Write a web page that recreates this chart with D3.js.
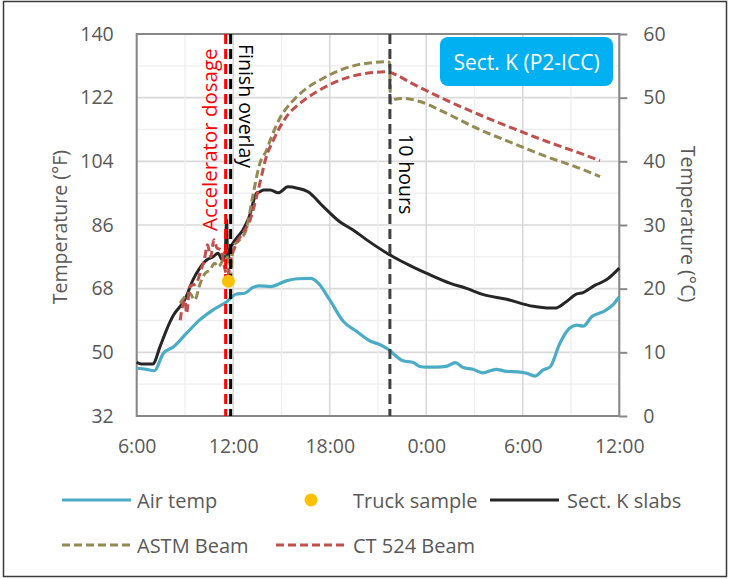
<!DOCTYPE html>
<html><head><meta charset="utf-8">
<script src="https://cdn.jsdelivr.net/npm/d3@7/dist/d3.min.js"></script>
<style>
body{margin:0;background:#fff}
svg{display:block}
text{font-family:"Open Sans", sans-serif}
</style>
</head><body>
<svg id="chart" width="730" height="579"></svg>
<script>
// ---------- data (hours after 6:00 on day 1; temperatures in °F) ----------
const xTickHours = [0, 6, 12, 18, 24, 30];
const xTickLabels = ["6:00", "12:00", "18:00", "0:00", "6:00", "12:00"];
const leftTicks = [32, 50, 68, 86, 104, 122, 140];
const rightTicks = [0, 10, 20, 30, 40, 50, 60];

const airHours = [0, 0.6, 1.1, 1.65, 2.3, 3.1, 3.9, 4.75, 5.6, 6.2, 6.7, 7.25, 7.65, 8.3, 9.3, 10.0, 10.8, 11.3, 12.0, 12.85, 13.7, 14.5, 15.0, 15.55, 16.55, 17.2, 17.6, 18.0, 18.6, 19.3, 19.8, 20.3, 20.9, 21.5, 22.35, 23.0, 23.7, 24.25, 24.75, 25.25, 25.7, 26.3, 26.9, 27.35, 27.75, 28.3, 29.0, 29.6, 30.0];
const airTemp  = [45.5, 45.2, 44.8, 49.7, 51.6, 55.4, 59.1, 62.0, 64.3, 66.5, 66.7, 68.4, 68.8, 68.6, 70.2, 70.8, 70.9, 69.5, 64.8, 58.7, 55.8, 53.2, 52.4, 51.1, 47.6, 47.1, 46.0, 45.8, 45.8, 46.1, 47.1, 45.7, 45.2, 44.2, 45.2, 44.6, 44.5, 44.1, 43.3, 45.0, 45.9, 52.5, 56.8, 57.7, 57.4, 60.1, 61.5, 63.4, 65.7];

const slabHours = [0, 0.3, 1.0, 1.45, 1.85, 2.3, 2.7, 3.0, 3.5, 3.85, 4.35, 4.75, 5.05, 5.35, 5.5, 5.59, 5.65, 5.8, 6.2, 6.6, 7.0, 7.45, 7.65, 7.9, 8.3, 8.8, 9.4, 10.0, 10.65, 11.6, 12.6, 13.45, 14.3, 15.75, 17.0, 18.0, 19.5, 20.5, 21.5, 23.0, 24.65, 25.7, 26.0, 26.7, 27.35, 27.75, 28.5, 29.2, 30.0];
const slabTemp  = [47.2, 46.7, 46.7, 51.6, 56.3, 60.6, 63.0, 65.0, 70.5, 73.3, 76.1, 77.0, 78.0, 76.0, 78.0, 87.4, 76.0, 79.0, 82.2, 84.6, 88.4, 95.0, 95.4, 95.9, 95.9, 95.1, 96.8, 96.4, 95.4, 91.2, 87.0, 84.6, 81.8, 77.5, 74.5, 72.4, 69.5, 68.1, 66.4, 65.0, 63.0, 62.5, 62.5, 64.3, 66.5, 66.9, 69.0, 70.5, 73.8];

const astmHours = [2.7, 3.0, 3.3, 3.6, 3.95, 4.25, 4.55, 4.85, 5.05, 5.35, 5.55, 5.8, 6.0, 6.4, 6.8, 7.25, 7.66, 8.08, 8.3, 8.9, 9.75, 10.55, 11.6, 12.65, 13.65, 14.7, 15.55, 15.72, 15.78, 16.0, 16.55, 17.6, 19.25, 21.35, 23.4, 25.5, 27.55, 28.8];
const astmTemp  = [63.9, 65.7, 66.7, 64.8, 69.5, 72.3, 73.3, 75.2, 74.2, 76.1, 79.0, 70.5, 79.9, 81.8, 84.6, 95.0, 103.5, 107.2, 110.0, 116.2, 121.3, 124.6, 127.5, 129.8, 131.2, 131.9, 132.2, 132.0, 120.4, 121.5, 121.8, 120.9, 117.6, 112.9, 109.1, 105.3, 102.0, 99.7];

const ctHours = [2.7, 3.0, 3.1, 3.3, 3.7, 4.0, 4.2, 4.4, 4.6, 4.8, 5.0, 5.25, 5.45, 5.65, 5.85, 6.2, 6.6, 7.05, 7.45, 7.85, 8.0, 8.5, 9.3, 10.15, 11.2, 12.2, 13.25, 14.3, 15.55, 16.15, 17.0, 19.25, 21.35, 23.4, 25.5, 27.55, 28.8];
const ctTemp  = [59.1, 64.8, 61.0, 68.6, 69.5, 73.3, 76.1, 80.4, 77.0, 81.8, 79.4, 79.0, 74.2, 71.4, 76.1, 80.8, 83.7, 87.4, 94.0, 101.6, 104.4, 110.0, 116.6, 120.4, 123.7, 126.1, 127.9, 128.9, 129.3, 128.4, 126.3, 121.3, 117.1, 113.3, 109.6, 106.3, 104.2];

const truckHours = [5.7];
const truckTemp  = [70.1];

const markerNames = ["Accelerator dosage", "Finish overlay", "10 hours"];
const markerHours = [5.53, 5.84, 15.74];

const legendNames = ["Air temp", "Truck sample", "Sect. K slabs", "ASTM Beam", "CT 524 Beam"];
const chartTitle = "Sect. K (P2-ICC)";

// ---------- drawing ----------
const svg = d3.select("#chart");
const L = 136.7, R = 619.3, T = 34, B = 416;
const x = d3.scaleLinear().domain([0, 30]).range([L, R]);
const yF = d3.scaleLinear().domain([32, 140]).range([B, T]);
const yC = d3.scaleLinear().domain([0, 60]).range([B, T]);
const grey = "#595959";
const FS = "19.5px";

// outer frame
svg.append("rect").attr("x", 3.5).attr("y", 1.5).attr("width", 723).attr("height", 575)
  .attr("fill", "none").attr("stroke", "#3a3a3a").attr("stroke-width", 1.5);

// gridlines
const g = svg.append("g");
d3.range(32, 141, 9).forEach(v => {
  const major = (v - 32) % 18 === 0;
  g.append("line").attr("x1", L).attr("x2", R).attr("y1", yF(v)).attr("y2", yF(v))
    .attr("stroke", major ? "#d9d9d9" : "#eeeeee").attr("stroke-width", major ? 1.6 : 1.3);
});
d3.range(0, 31, 3).forEach(h => {
  const major = h % 6 === 0;
  g.append("line").attr("y1", T).attr("y2", B).attr("x1", x(h)).attr("x2", x(h))
    .attr("stroke", major ? "#d9d9d9" : "#eeeeee").attr("stroke-width", major ? 1.6 : 1.3);
});

// plot border
svg.append("rect").attr("x", L).attr("y", T).attr("width", R - L).attr("height", B - T)
  .attr("fill", "none").attr("stroke", "#878787").attr("stroke-width", 2);

// axes via d3
const leftAxis = d3.axisLeft(yF).tickValues(leftTicks).tickSize(0).tickPadding(23);
const rightAxis = d3.axisRight(yC).tickValues(rightTicks).tickSize(8).tickPadding(16);
const bottomAxis = d3.axisBottom(x).tickValues(xTickHours).tickFormat((d, i) => xTickLabels[i]).tickSize(0).tickPadding(23);

function styleAxis(sel) {
  sel.select(".domain").remove();
  sel.selectAll("text").attr("fill", grey).style("font-size", FS);
  sel.selectAll(".tick line").attr("stroke", "#878787").attr("stroke-width", 2);
}
svg.append("g").attr("transform", `translate(${L},0)`).call(leftAxis).call(styleAxis);
svg.append("g").attr("transform", `translate(${R},0)`).call(rightAxis).call(styleAxis);
svg.append("g").attr("transform", `translate(0,${B})`).call(bottomAxis).call(styleAxis);

// axis titles
svg.append("text").attr("transform", `translate(59,227) rotate(-90)`)
  .attr("text-anchor", "middle").attr("dominant-baseline", "central")
  .attr("fill", grey).style("font-size", "19.5px").text("Temperature  (°F)");
svg.append("text").attr("transform", `translate(688,224) rotate(90)`)
  .attr("text-anchor", "middle").attr("dominant-baseline", "central")
  .attr("fill", grey).style("font-size", "19.5px").text("Temperature  (°C)");

// series
const line = d3.line().x(d => x(d[0])).y(d => yF(d[1])).curve(d3.curveMonotoneX);
const zip = (a, b) => a.map((v, i) => [v, b[i]]);

const series = [
  {h: airHours, t: airTemp, color: "#4bacc6", w: 3.2, dash: null},
  {h: slabHours, t: slabTemp, color: "#262626", w: 3, dash: null},
  {h: astmHours, t: astmTemp, color: "#948a54", w: 3, dash: "8,4"},
  {h: ctHours, t: ctTemp, color: "#c0504d", w: 3, dash: "8,4"}
];
series.forEach(s => {
  svg.append("path").datum(zip(s.h, s.t)).attr("d", line)
    .attr("fill", "none").attr("stroke", s.color).attr("stroke-width", s.w)
    .attr("stroke-linejoin", "round")
    .attr("stroke-dasharray", s.dash);
});

// vertical markers
const markerColors = ["#ff0000", "#000000", "#404040"];
markerHours.forEach((h, i) => {
  svg.append("line").attr("x1", x(h)).attr("x2", x(h)).attr("y1", T).attr("y2", B)
    .attr("stroke", markerColors[i]).attr("stroke-width", 3).attr("stroke-dasharray", "10,5");
});
// marker labels
svg.append("text").attr("transform", `translate(${x(markerHours[0]) - 17},231) rotate(-90)`)
  .attr("dominant-baseline", "central").attr("fill", "#ff0000").style("font-size", "20.5px")
  .text(markerNames[0]);
svg.append("text").attr("transform", `translate(${x(markerHours[1]) + 16},44) rotate(90)`)
  .attr("dominant-baseline", "central").attr("fill", "#000").style("font-size", FS)
  .text(markerNames[1]);
svg.append("text").attr("transform", `translate(${x(markerHours[2]) + 17},134) rotate(90)`)
  .attr("dominant-baseline", "central").attr("fill", "#000").style("font-size", FS)
  .text(markerNames[2]);

// truck sample
svg.selectAll("circle.truck").data(zip(truckHours, truckTemp)).enter().append("circle")
  .attr("cx", d => x(d[0])).attr("cy", d => yF(d[1])).attr("r", 6.5).attr("fill", "#ffc000");

// title box
svg.append("rect").attr("x", 440).attr("y", 37).attr("width", 173).attr("height", 49)
  .attr("rx", 8).attr("fill", "#00b0f0");
svg.append("text").attr("x", 526.5).attr("y", 61.5).attr("text-anchor", "middle")
  .attr("dominant-baseline", "central").attr("fill", "#fff").style("font-size", "21px")
  .text(chartTitle);

// legend
const leg = svg.append("g");
const legItems = [
  {type: "line", color: "#4bacc6", dash: null, x0: 62, y: 500, tx: 137},
  {type: "dot", color: "#ffc000", x0: 311, y: 500, tx: 353},
  {type: "line", color: "#262626", dash: null, x0: 490, y: 500, tx: 567},
  {type: "line", color: "#948a54", dash: "8,4", x0: 62, y: 545, tx: 137},
  {type: "line", color: "#c0504d", dash: "8,4", x0: 276, y: 545, tx: 353}
];
legItems.forEach((it, i) => {
  if (it.type === "line") {
    leg.append("line").attr("x1", it.x0).attr("x2", it.x0 + 69).attr("y1", it.y).attr("y2", it.y)
      .attr("stroke", it.color).attr("stroke-width", 3.2).attr("stroke-dasharray", it.dash);
  } else {
    leg.append("circle").attr("cx", it.x0).attr("cy", it.y).attr("r", 6.5).attr("fill", it.color);
  }
  leg.append("text").attr("x", it.tx).attr("y", it.y).attr("dominant-baseline", "central")
    .attr("fill", grey).style("font-size", "20px").text(legendNames[i]);
});
</script>
</body></html>
